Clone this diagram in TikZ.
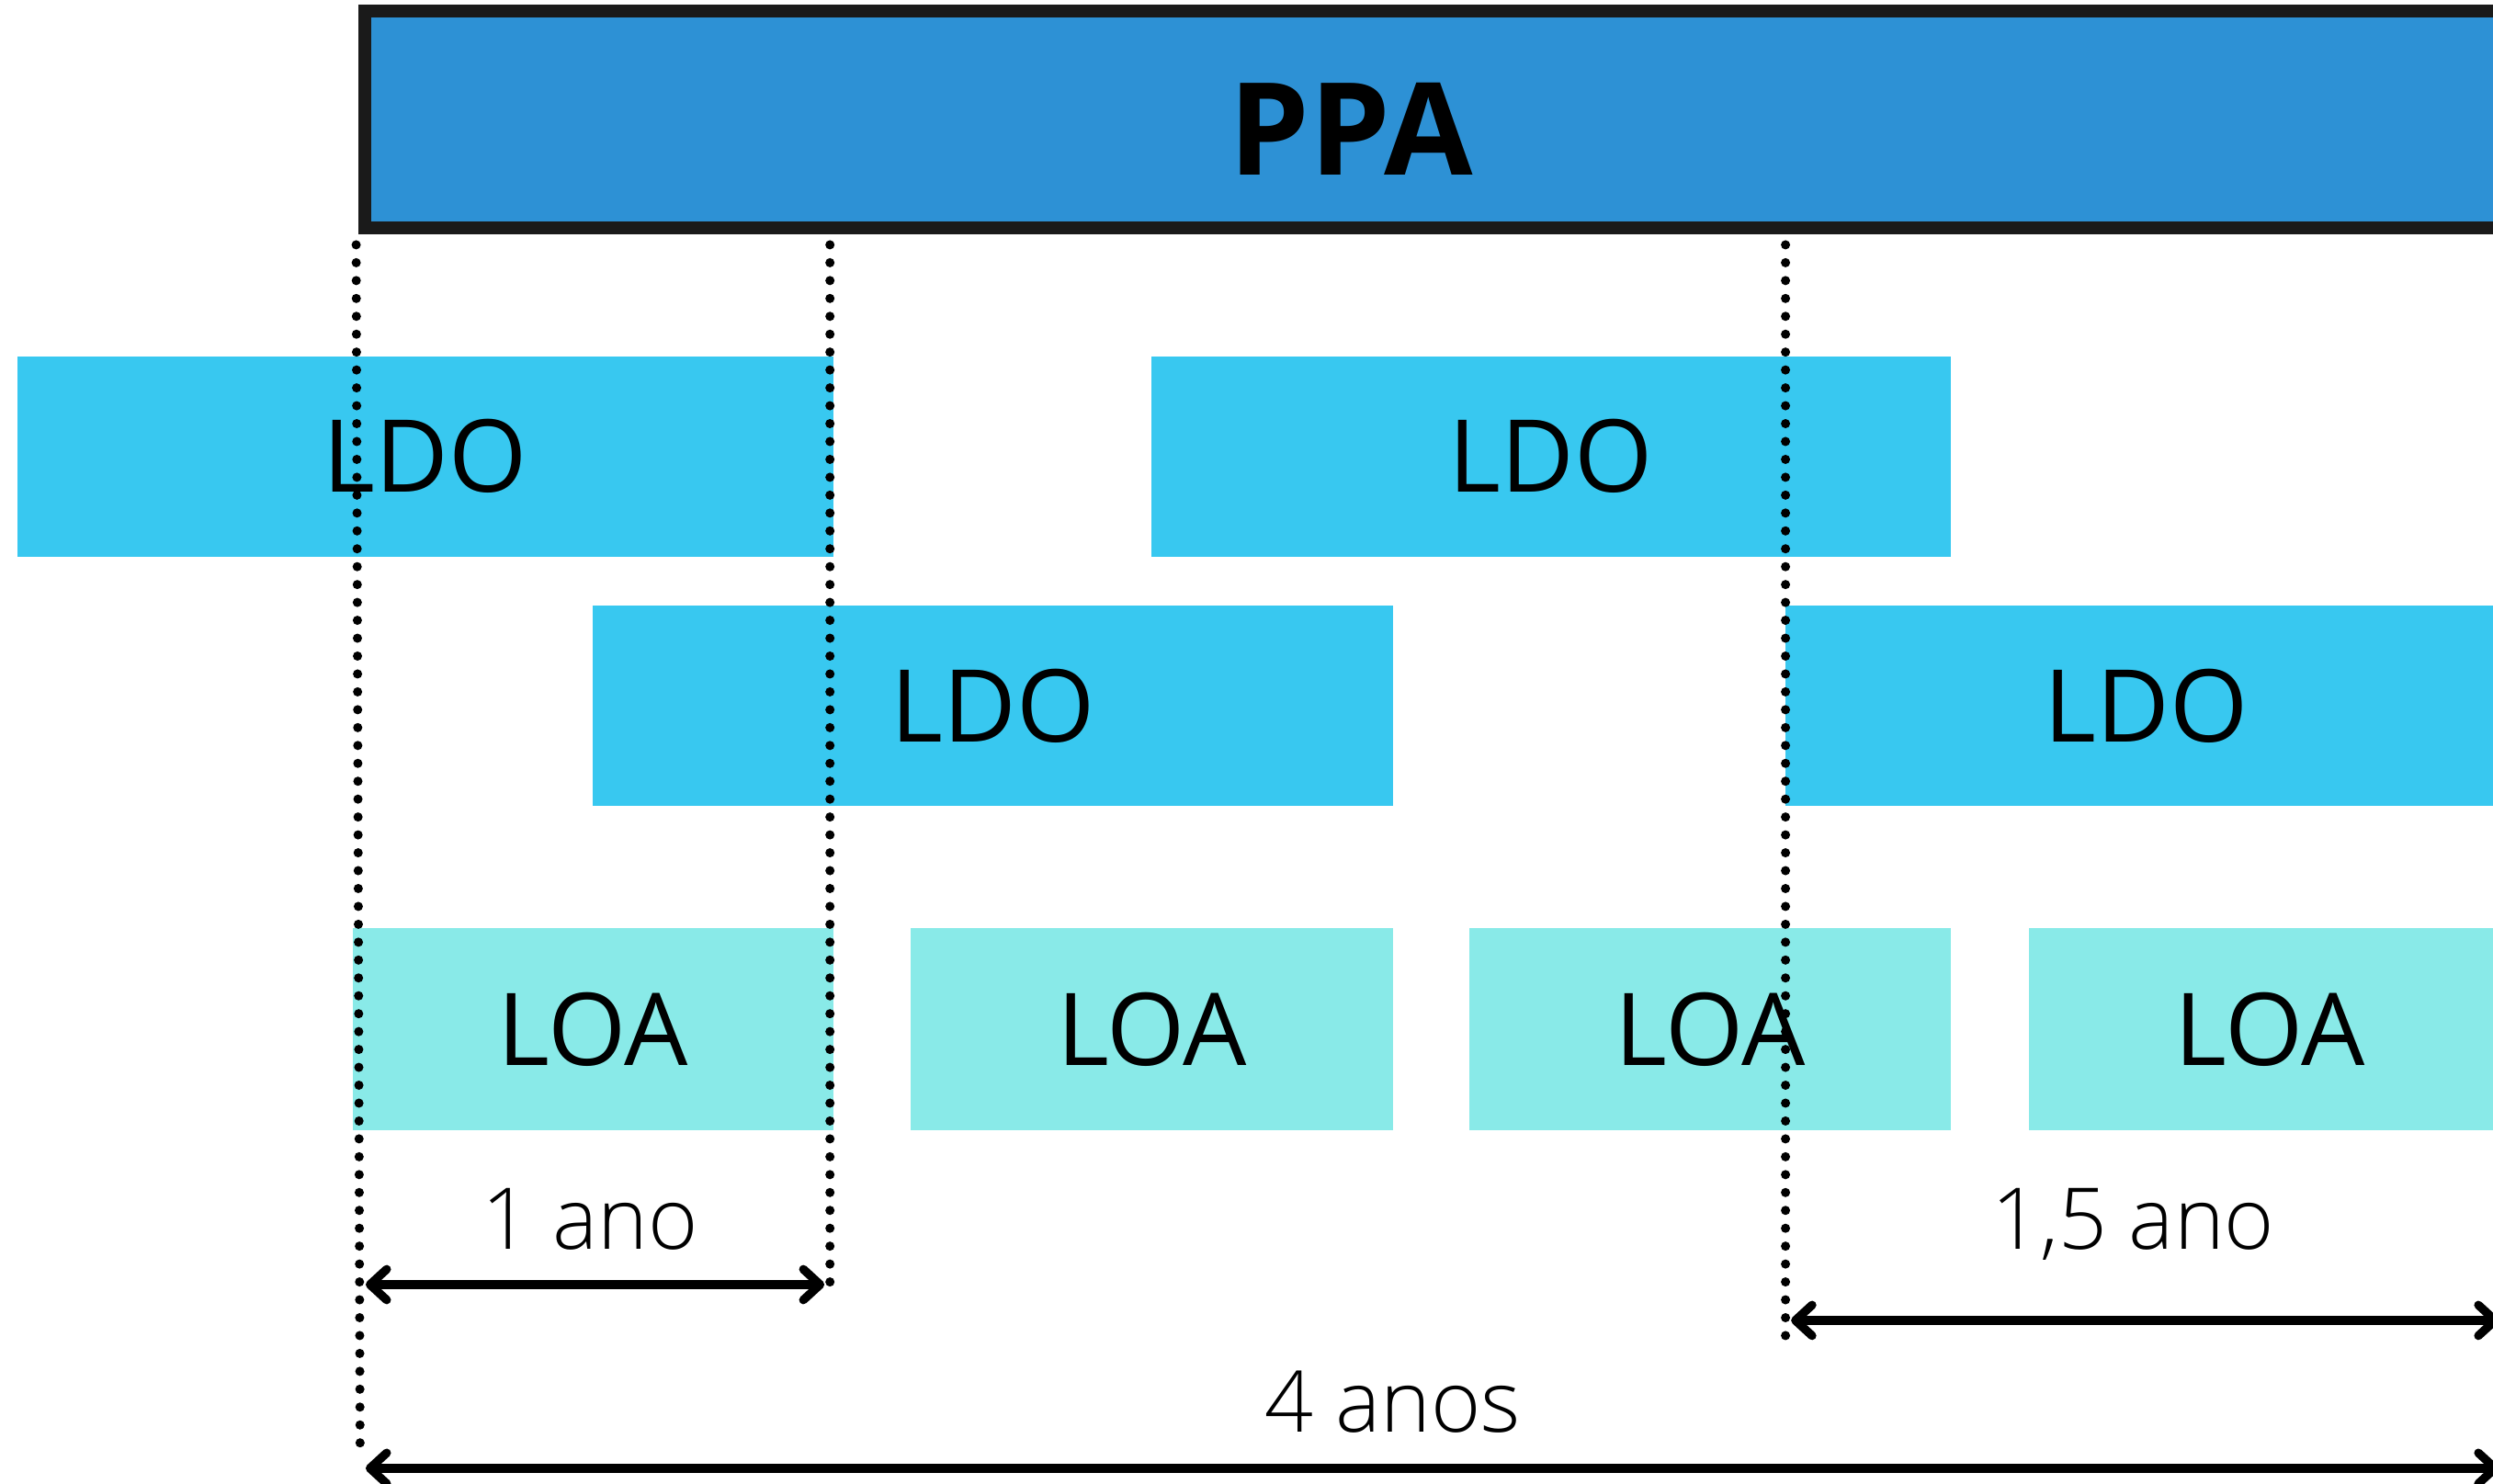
\documentclass[tikz,border=0pt]{standalone}
\usepackage{fontspec}
\setmainfont{Open Sans}
\newfontfamily\lightfont{Open Sans Light}
\usetikzlibrary{arrows.meta}
\usetikzlibrary{positioning}

\definecolor{ppablue}{HTML}{2D91D5}
\definecolor{ldoblue}{HTML}{38C8F0}
\definecolor{loacyan}{HTML}{89EAE8}
\definecolor{ppaedge}{HTML}{1A1A1A}

\tikzset{
  bar/.style={inner sep=0pt, outer sep=0pt, font=\fontsize{36}{40}\selectfont},
  ldobar/.style={bar, fill=ldoblue, minimum height=2.52cm},
  loabar/.style={bar, fill=loacyan, minimum height=2.54cm, minimum width=6.06cm},
  guide/.style={draw, line width=3.3pt, line cap=round, dash pattern=on 0pt off 6.4pt},
  span/.style={draw, <->, line width=3.06pt},
  spanlabel/.style={anchor=base, inner sep=0pt, font=\lightfont\fontsize{30.5}{34}\selectfont}
}

\begin{document}
\begin{tikzpicture}[>={Straight Barb[length=6pt,width=11pt,line cap=round,line join=round]}]
\useasboundingbox (0,0) rectangle (31.36,18.66);
\clip (0,0) rectangle (31.36,18.66);
% PPA
\node[fill=ppablue, draw=ppaedge, line width=4.5pt, inner sep=0pt, anchor=south west,
      minimum width=30cm, minimum height=2.73cm] (ppa) at (4.51,15.71) {};
\node[inner sep=0pt, font=\bfseries\fontsize{46}{50}\selectfont] (ppatext) at (16.99,17.04) {PPA};
% LDO
\node[ldobar, minimum width=10.26cm] (ldo1) at (5.35,12.92) {LDO};
\node[ldobar, minimum width=10.06cm] (ldo2) at (19.51,12.92) {LDO};
\node[ldobar, minimum width=10.06cm] (ldo3) at (12.49,9.78) {LDO};
\node[ldobar, minimum width=9.08cm] (ldo4) at (27.00,9.78) {LDO};
% LOA
\node[loabar, minimum width=6.04cm] (loa1) at (7.46,5.71) {LOA};
\node[loabar] (loa2) at (14.49,5.71) {LOA};
\node[loabar] (loa3) at (21.51,5.71) {LOA};
\node[loabar] (loa4) at (28.55,5.71) {LOA};
% guide lines
\coordinate (gA) at (4.48,15.58);
\coordinate (gAend) at (4.53,0.32);
\coordinate (gB) at (10.44,15.58);
\coordinate (gBend) at (10.44,2.41);
\coordinate (gC) at (22.46,15.58);
\coordinate (gCend) at (22.46,1.70);
\path[guide] (gA) -- (gAend);
\path[guide] (gB) -- (gBend);
\path[guide] (gC) -- (gCend);
% spans
\coordinate (s1a) at (4.60,2.50);
\coordinate (s1b) at (10.37,2.50);
\coordinate (s2a) at (22.53,2.05);
\coordinate (s2b) at (31.44,2.05);
\coordinate (s3a) at (4.60,0.19);
\coordinate (s3b) at (31.44,0.19);
\path[span] (s1a) -- (s1b);
\path[span] (s2a) -- (s2b);
\path[span] (s3a) -- (s3b);
\node[spanlabel] (oneyear) at (7.42,2.95) {1 ano};
\node[spanlabel] (halfyear) at (26.83,2.95) {1,5 ano};
\node[spanlabel] (fouryears) at (17.52,0.65) {4 anos};
\end{tikzpicture}
\end{document}
